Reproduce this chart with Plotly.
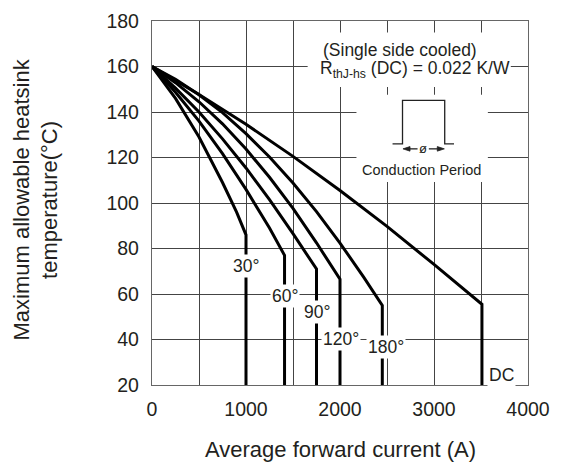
import plotly.graph_objects as go

# ---- data ----
I_30 = [0, 250, 500, 750, 900, 1000, 1000]
T_30 = [160, 146, 129, 109, 96, 86, 20]

I_60 = [0, 250, 500, 750, 1000, 1250, 1410, 1410]
T_60 = [160, 148.7, 136, 121.7, 106, 89, 77, 20]

I_90 = [0, 250, 500, 750, 1000, 1250, 1500, 1750, 1750]
T_90 = [160, 150.5, 140, 128.2, 115.4, 101.5, 86.5, 71, 20]

I_120 = [0, 250, 500, 750, 1000, 1250, 1500, 1750, 2000, 2000]
T_120 = [160, 152.9, 144.5, 134.8, 123.7, 111.3, 97.6, 82.5, 66.5, 20]

I_180 = [0, 250, 500, 750, 1000, 1250, 1500, 1750, 2000, 2250, 2450, 2450]
T_180 = [160, 154.4, 147.6, 139.7, 130.5, 120.2, 108.8, 96.2, 82.4, 67.5, 55, 20]

I_DC = [0, 500, 1000, 1500, 2000, 2500, 3000, 3510, 3510]
T_DC = [160, 147.7, 134.6, 120.5, 105.5, 89.7, 73, 55.5, 20]

series = [(I_30, T_30), (I_60, T_60), (I_90, T_90), (I_120, T_120), (I_180, T_180), (I_DC, T_DC)]

curve_labels = ["30°", "60°", "90°", "120°", "180°", "DC"]
label_x = [1000, 1412, 1754, 2013, 2489, 3560]
label_y = [72.4, 59.1, 52, 40.4, 36.7, 24.3]

x_ticks = [0, 1000, 2000, 3000, 4000]
y_ticks = [20, 40, 60, 80, 100, 120, 140, 160, 180]

FONT = "Liberation Sans, Arial, Helvetica, sans-serif"
TXT = "#231f20"
GRID = "#444444"
INK = "#222222"

fig = go.Figure()
for xs, ys in series:
    fig.add_trace(go.Scatter(x=xs, y=ys, mode="lines",
                             line=dict(color="black", width=3),
                             showlegend=False, hoverinfo="skip"))

shapes = [
    # white regions behind the note text and the inset diagram
    dict(type="rect", xref="x", yref="y", x0=1656, x1=3817, y0=151, y1=174.9,
         fillcolor="white", line=dict(width=0), layer="above"),
    dict(type="rect", xref="x", yref="y", x0=2175, x1=3573, y0=109.2, y1=147.6,
         fillcolor="white", line=dict(width=0), layer="above"),
    # conduction pulse
    dict(type="path", xref="x", yref="y",
         path="M 2559,126 L 2665,126 L 2665,145.1 L 3114,145.1 L 3114,126 L 3213,126",
         line=dict(color=INK, width=1.3), layer="above"),
    # arrow shafts
    dict(type="line", xref="x", yref="y", x0=2700, x1=2825, y0=123.8, y1=123.8,
         line=dict(color=INK, width=1.3), layer="above"),
    dict(type="line", xref="x", yref="y", x0=2945, x1=3080, y0=123.8, y1=123.8,
         line=dict(color=INK, width=1.3), layer="above"),
    # arrow heads
    dict(type="path", xref="x", yref="y",
         path="M 2670,123.8 L 2745,124.8 L 2745,122.8 Z",
         fillcolor=INK, line=dict(color=INK, width=0.8), layer="above"),
    dict(type="path", xref="x", yref="y",
         path="M 3110,123.8 L 3035,124.8 L 3035,122.8 Z",
         fillcolor=INK, line=dict(color=INK, width=0.8), layer="above"),
]

annotations = []
for t, lx, ly in zip(curve_labels, label_x, label_y):
    annotations.append(dict(x=lx, y=ly, xref="x", yref="y", text=t, showarrow=False,
                            font=dict(family=FONT, size=17.5, color=TXT),
                            bgcolor="white", borderpad=1,
                            xanchor="left" if t == "DC" else "center"))

annotations += [
    dict(x=2640, y=167.2, xref="x", yref="y", text="(Single side cooled)", showarrow=False,
         font=dict(family=FONT, size=17.5, color=TXT)),
    dict(x=2800, y=158.7, xref="x", yref="y",
         text="R<sub>thJ-hs</sub> (DC) = 0.022 K/W", showarrow=False,
         font=dict(family=FONT, size=17.5, color=TXT)),
    dict(x=2862, y=114.6, xref="x", yref="y", text="Conduction Period", showarrow=False,
         font=dict(family=FONT, size=14.5, color=TXT)),
    dict(x=2886, y=123.8, xref="x", yref="y", text="ø", showarrow=False,
         font=dict(family=FONT, size=13, color=TXT)),
    # axis titles
    dict(x=-0.308, y=0.51, xref="paper", yref="paper", textangle=-90,
         text="Maximum allowable heatsink<br>temperature(°C)", showarrow=False,
         xanchor="center", yanchor="middle",
         font=dict(family=FONT, size=22, color=TXT)),
    dict(x=0.5, y=-0.176, xref="paper", yref="paper",
         text="Average forward current (A)", showarrow=False,
         xanchor="center", yanchor="middle",
         font=dict(family=FONT, size=22, color=TXT)),
]

fig.update_layout(
    width=564, height=470,
    margin=dict(l=152, r=36, t=10, b=85),
    paper_bgcolor="white", plot_bgcolor="white",
    shapes=shapes, annotations=annotations,
    font=dict(family=FONT, color=TXT),
)
fig.update_xaxes(range=[0, 4000], tickvals=x_ticks, ticktext=[str(v) for v in x_ticks],
                 showgrid=True, gridcolor=GRID, gridwidth=1.2,
                 minor=dict(dtick=500, showgrid=True, gridcolor=GRID, gridwidth=1.2),
                 showline=True, linecolor="#666666", linewidth=1.3, mirror=True,
                 zeroline=False, ticks="", ticklabelstandoff=6, ticklabeloverflow="allow",
                 tickfont=dict(family=FONT, size=19.5, color=TXT))
fig.update_yaxes(range=[20, 180], tickvals=y_ticks, ticktext=[str(v) for v in y_ticks],
                 showgrid=True, gridcolor=GRID, gridwidth=1.2,
                 showline=True, linecolor="#666666", linewidth=1.3, mirror=True,
                 zeroline=False, ticks="", ticklabelstandoff=8, ticklabeloverflow="allow",
                 tickfont=dict(family=FONT, size=19.5, color=TXT))

fig.write_html("out.html", config={"displayModeBar": False},
               post_script="document.body.style.margin='0px';")
